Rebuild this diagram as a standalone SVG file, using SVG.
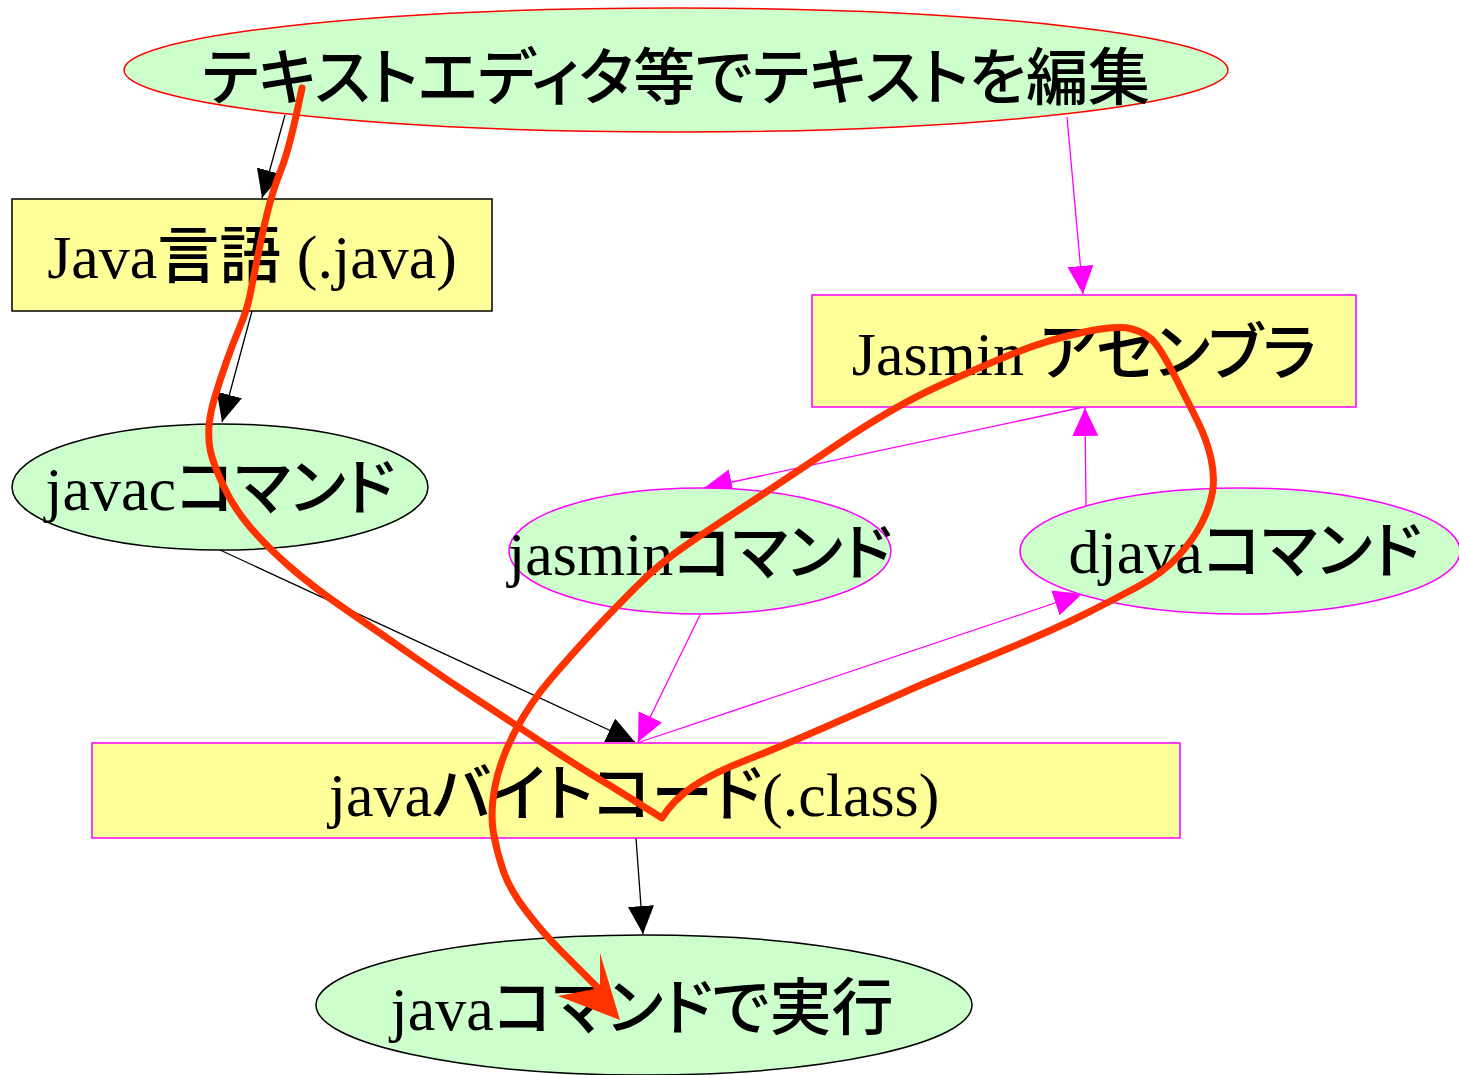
<svg xmlns="http://www.w3.org/2000/svg" width="1459" height="1075" viewBox="0 0 1459 1075">
<style>
text{font-family:"Liberation Serif","Noto Sans CJK JP",serif;fill:#000;text-anchor:middle;font-size:62px;font-feature-settings:"palt"}
.j{font-weight:500}
.ell{fill:#ccffcc;stroke-width:1.5}
.box{fill:#ffff99;stroke-width:1.5}
.blk{stroke:#000;fill:none;stroke-width:1.3;marker-end:url(#ab)}
.mag{stroke:#ff00ff;fill:none;stroke-width:1.3;marker-end:url(#am)}
.red{fill:none;stroke:#ff3300;stroke-width:7;stroke-linejoin:round;stroke-linecap:round}
</style>
<defs>
<marker id="ab" markerUnits="userSpaceOnUse" markerWidth="30" markerHeight="28" refX="28" refY="13" orient="auto"><path d="M0,0 L28,13 L0,26 z" fill="#000"/></marker>
<marker id="am" markerUnits="userSpaceOnUse" markerWidth="30" markerHeight="28" refX="28" refY="13" orient="auto"><path d="M0,0 L28,13 L0,26 z" fill="#ff00ff"/></marker>
</defs>
<rect width="1459" height="1075" fill="#fff"/>
<g id="connectors">
<path class="blk" d="M285,115 L262,198"/>
<path class="blk" d="M252,311 L222,422"/>
<path class="blk" d="M220,550 L635,742"/>
<path class="blk" d="M636,838 L643,934"/>
<path class="mag" d="M1067,117 L1083,294"/>
<path class="mag" d="M1084,407 L704,488"/>
<path class="mag" d="M1086,506 L1085,408"/>
<path class="mag" d="M700,615 L638,742"/>
<path class="mag" d="M637,743 L1082,594"/>
</g>
<g id="n_top"><ellipse class="ell" cx="676" cy="70" rx="552" ry="62" stroke="#ff0000"/><text x="676" y="100"><tspan class="j">テキストエディタ等でテキストを編集</tspan></text></g>
<g id="n_java"><rect class="box" x="12" y="199" width="480" height="112" stroke="#000"/><text x="252" y="278">Java<tspan class="j">言語</tspan> (.java)</text></g>
<g id="n_jasminasm"><rect class="box" x="812" y="295" width="544" height="112" stroke="#ff00ff"/><text x="1084" y="375">Jasmin <tspan class="j">アセンブラ</tspan></text></g>
<g id="n_javac"><ellipse class="ell" cx="220" cy="487" rx="208" ry="63" stroke="#000"/><text x="220" y="510">javac<tspan class="j">コマンド</tspan></text></g>
<g id="n_jasmin"><ellipse class="ell" cx="700" cy="551" rx="191" ry="63" stroke="#ff00ff"/><text x="700" y="575">jasmin<tspan class="j">コマンド</tspan></text></g>
<g id="n_djava"><ellipse class="ell" cx="1240" cy="551" rx="220" ry="63" stroke="#ff00ff"/><text x="1245" y="573">djava<tspan class="j">コマンド</tspan></text></g>
<g id="n_bytecode"><rect class="box" x="92" y="743" width="1088" height="95" stroke="#ff00ff"/><text x="634" y="816">java<tspan class="j">バイトコード</tspan>(.class)</text></g>
<g id="n_run"><ellipse class="ell" cx="644" cy="1005" rx="328" ry="70" stroke="#000"/><text x="642" y="1030">java<tspan class="j">コマンドで実行</tspan></text></g>
<g id="annotation">
<path class="red" d="M302,88 Q290,147 281.5,168.5 Q273,190 268,210 Q263,230 258,255 Q253,280 250,295 Q247,310 240,326.5 Q233,343 226.5,361.5 Q220,380 215,396.5 Q210,413 209,426.5 Q208,440 210.5,451.5 Q213,463 223,485 Q233,507 250,527 Q267,547 290,567 Q313,587 346.5,610 Q380,633 413.5,656.5 Q447,680 480,701.5 Q513,723 546.5,745.5 Q580,768 610,785.5 L662,818 Q673,800 693,786.5 Q713,773 746.5,760 Q780,747 830,725 Q880,703 923,684 Q966,666 1009.5,648 Q1053,630 1083,615 Q1113,600 1138,586.5 Q1163,573 1178,556.5 Q1193,540 1201.5,523.5 Q1210,507 1212.5,492 Q1215,477 1211,458.5 Q1207,440 1197,420 Q1187,400 1175,376.5 Q1163,353 1155,343 Q1147,333 1132,329 Q1117,325 1082,332.5 Q1047,340 1013.5,353.5 Q980,367 936.5,387 Q893,407 836.5,445 Q780,483 746.5,505 Q713,527 686.5,545 Q660,563 636.5,586.5 Q613,610 593,631.5 Q573,653 551.5,678 Q530,703 515,731.5 Q500,760 495,786.5 Q490,813 493.5,833 Q497,853 503.5,871.5 Q510,890 526.5,911.5 Q543,933 560,950 Q577,967 598,988"/>
<path d="M620,1020 L558,996 L600,988 L600,953 z" fill="#ff3300"/>
</g>
</svg>
